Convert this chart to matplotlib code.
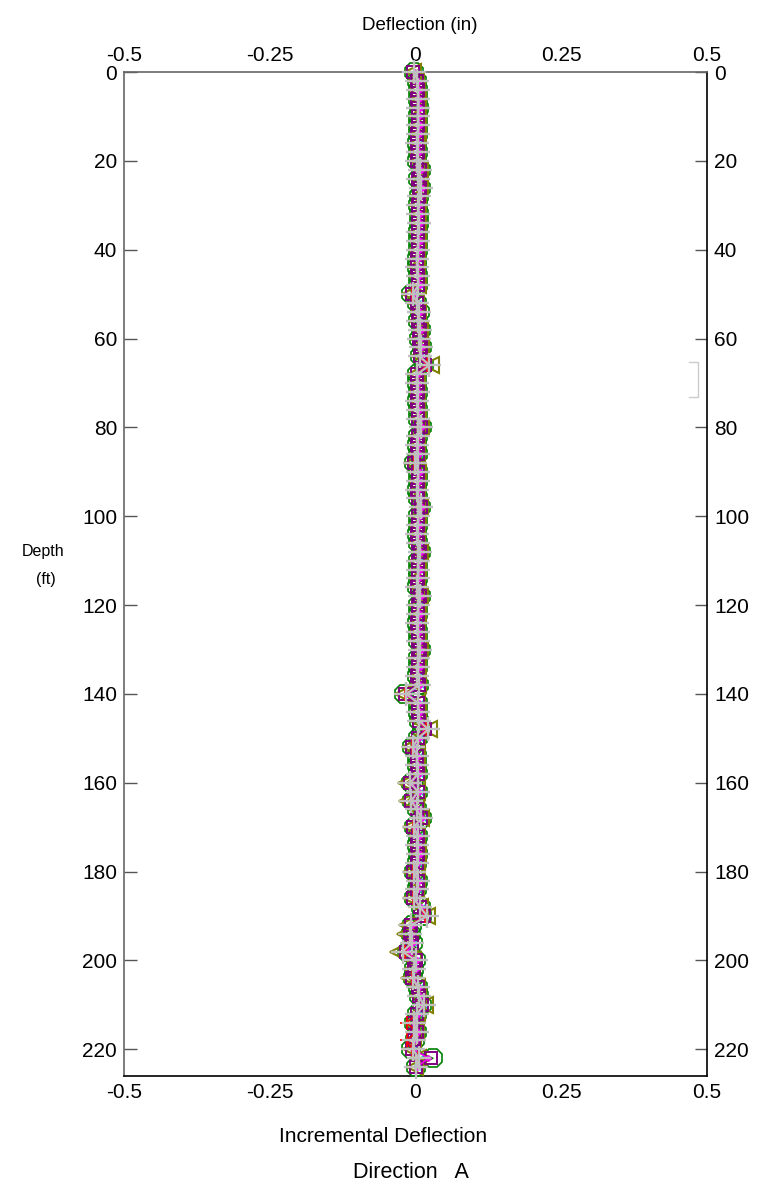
import matplotlib
matplotlib.use("Agg")
import matplotlib.pyplot as plt
from matplotlib.lines import Line2D

plt.rcParams['font.family'] = ['Liberation Sans', 'DejaVu Sans']

# depth of each reading (ft)
depth = list(range(0, 226, 2))

# incremental deflection per survey, in thousandths of an inch
grn = [-3, 3, 5, 4, 6, 4, 5, 5, 3, 4,
       3, 9, 5, 10, 6, 4, 6, 6, 4, 5,
       4, 3, 2, 4, 5, -7, 2, 7, 4, 9,
       6, 11, 7, 14, 2, 3, 4, 3, 4, 5,
       11, 4, 3, 4, -3, 5, 4, 3, 4, 10,
       5, 4, 3, 4, 9, 4, 5, 4, 3, 9,
       4, 5, 3, 4, 5, 9, 4, 5, 3, 6,
       -20, 4, 5, 6, 12, 4, -6, 3, 2, 4,
       -8, 4, -6, 2, 11, -3, 4, 2, 5, 3,
       -3, 4, 2, -3, 9, 12, -6, -8, -5, -14,
       0, -2, -5, 4, 6, 12, 3, -3, 2, -1,
       -8, 30, 0]
olv = [-5, 1, 3, 4, 4, 3, 4, 4, 2, 3,
       2, 7, 4, 8, 5, 3, 4, 5, 3, 4,
       3, 2, 1, 3, 4, -9, 1, 5, 3, 7,
       5, 9, 6, 26, 1, 2, 3, 2, 3, 4,
       9, 3, 2, 3, -4, 4, 3, 2, 3, 8,
       4, 3, 2, 3, 7, 3, 4, 3, 2, 7,
       3, 4, 2, 3, 4, 7, 3, 4, 2, 5,
       -22, 3, 4, 5, 24, 3, -10, 2, 1, 3,
       -16, 3, -14, 1, 9, -8, 3, 1, 4, 2,
       -8, 3, 1, -8, 7, 20, -14, -18, -10, -30,
       -4, -6, -12, 3, 5, 16, 2, -6, 1, -4,
       -8, 4, -1]
pur = [-4, 2, 4, 3, 5, 4, 5, 3, 3, 4,
       2, 7, 5, 8, 6, 4, 5, 5, 4, 5,
       4, 3, 2, 4, 5, -6, 2, 6, 4, 8,
       6, 9, 7, 16, 2, 3, 4, 3, 4, 5,
       9, 4, 3, 4, -2, 5, 4, 3, 4, 9,
       5, 4, 3, 4, 8, 4, 5, 4, 3, 8,
       4, 5, 3, 4, 5, 8, 4, 5, 3, 6,
       -18, 4, 5, 6, 16, 4, -6, 3, 2, 4,
       -10, 4, -8, 2, 10, -4, 4, 2, 5, 3,
       -4, 4, 2, -4, 8, 14, -8, -10, -6, -16,
       0, -2, -6, 4, 6, 12, 3, -4, 2, -2,
       -6, 26, 0]
mag = [-1, 5, 6, 6, 7, 6, 7, 6, 5, 6,
       4, 10, 7, 11, 8, 6, 7, 8, 6, 7,
       6, 5, 4, 6, 7, -4, 4, 8, 6, 10,
       8, 12, 9, 18, 4, 5, 6, 5, 6, 7,
       12, 6, 5, 6, 0, 7, 6, 5, 6, 11,
       7, 6, 5, 6, 10, 6, 7, 6, 5, 10,
       6, 7, 5, 6, 7, 10, 6, 7, 5, 8,
       -14, 6, 7, 8, 16, 6, -4, 5, 4, 6,
       -8, 6, -6, 4, 12, -2, 6, 4, 7, 5,
       -2, 6, 4, -2, 10, 14, -6, -8, -4, -14,
       2, 0, -4, 6, 8, 12, 5, -2, 4, 0,
       -4, 22, 2]
red = [-3, 3, 4, 4, 5, 4, 5, 4, 3, 4,
       2, 8, 5, 9, 6, 4, 5, 6, 4, 5,
       4, 3, 2, 4, 5, -6, 2, 6, 4, 8,
       6, 10, 7, 20, 2, 3, 4, 3, 4, 5,
       10, 4, 3, 4, -2, 5, 4, 3, 4, 9,
       5, 4, 3, 4, 8, 4, 5, 4, 3, 8,
       4, 5, 3, 4, 5, 8, 4, 5, 3, 6,
       -18, 4, 5, 6, 18, 4, -6, 3, 2, 4,
       -10, 4, -8, 2, 10, -4, 4, 2, 5, 3,
       -4, 4, 2, -4, 8, 16, -8, -10, -6, -18,
       0, -2, -6, 4, 6, 14, 3, -15, 2, -15,
       -6, 5, 0]
cyn = [6, 6, 7, 7, 8, 7, 8, 7, 6, 7,
       5, 11, 8, 12, 9, 7, 8, 9, 7, 8,
       7, 6, 5, 7, 8, -3, 5, 9, 7, 11,
       9, 13, 10, 20, 5, 6, 7, 6, 7, 8,
       13, 7, 6, 7, 1, 8, 7, 6, 7, 12,
       8, 7, 6, 7, 11, 7, 8, 7, 6, 11,
       7, 8, 6, 7, 8, 11, 7, 8, 6, 9,
       -12, 7, 8, 9, 18, 7, -3, 6, 5, 7,
       -6, 7, -4, 5, 13, -1, 7, 5, 8, 6,
       -1, 7, 5, -1, 11, 16, -4, -6, -2, -12,
       3, 1, -2, 7, 9, 14, 6, -1, 5, 1,
       -3, 8, 3]
gry = [-2, 3, 4, 5, 5, 4, 5, 4, 3, 4,
       3, 8, 5, 9, 6, 5, 5, 6, 4, 5,
       4, 3, 3, 4, 5, -5, 3, 6, 4, 8,
       6, 10, 7, 24, 3, 3, 4, 3, 4, 5,
       10, 4, 3, 4, -1, 5, 4, 3, 4, 9,
       5, 4, 3, 4, 8, 4, 5, 4, 3, 8,
       4, 5, 3, 4, 5, 8, 4, 5, 3, 6,
       -16, 4, 5, 6, 22, 4, -5, 3, 2, 4,
       -9, 4, -7, 2, 10, -3, 4, 2, 5, 3,
       -3, 4, 2, -3, 8, 20, -7, -9, -6, -22,
       0, -2, -5, 4, 6, 14, 3, -3, 2, -2,
       -5, 6, 1]

xticks = [-0.5, -0.25, 0, 0.25, 0.5]
xlabels = ["-0.5", "-0.25", "0", "0.25", "0.5"]
yticks = list(range(0, 221, 20))

W, H = 768, 1198
fig = plt.figure(figsize=(W / 100, H / 100), dpi=100)
ax = fig.add_axes([124 / W, 1 - 1076 / H, (707 - 124) / W, (1076 - 72) / H])


def inch(v):
    return [x / 1000 for x in v]


# (values, color, marker, size, edge width, filled)
series = [
    (grn, '#008000', '8', 14, 1.2, False),
    (cyn, '#00c8c8', 'x', 5, 1.0, False),
    (olv, '#808000', '<', 11, 1.5, False),
    (pur, '#800080', 's', 8, 1.4, False),
    (mag, '#ff00ff', 'D', 3, 1.0, True),
    (red, '#ff0000', '+', 10, 1.2, False),
]
for vals, col, mk, ms, mew, filled in series:
    ax.plot(inch(vals), depth, color=col, lw=1.0, marker=mk, ms=ms, mew=mew,
            mfc=col if filled else 'none', mec=col, clip_on=False, zorder=3)

ax.plot(inch(gry), depth, color='#c0c0c0', lw=1.6, marker='+', ms=17, mew=1.7,
        clip_on=False, zorder=4)

ax.set_xlim(-0.5, 0.5)
ax.set_ylim(226, 0)
ax.set_xticks(xticks)
ax.set_xticklabels(xlabels)
ax.set_yticks(yticks)
ax.tick_params(axis='x', top=True, labeltop=True, length=0, pad=5, labelsize=15)
ax.tick_params(axis='y', left=True, right=True, labelright=True, direction='in',
               length=9, width=1, color='#555555', pad=5, labelsize=15)
ax.spines['left'].set_color('#666666')
ax.spines['top'].set_color('#666666')
ax.spines['right'].set_color('#000000')
ax.spines['bottom'].set_color('#000000')
for s in ax.spines.values():
    s.set_linewidth(1.2)

fig.text(420 / W, 1 - 25 / H, "Deflection (in)", ha='center', va='center', fontsize=13.5)
fig.text(43 / W, 1 - 552 / H, "Depth", ha='center', va='center', fontsize=11.5)
fig.text(46 / W, 1 - 579 / H, "(ft)", ha='center', va='center', fontsize=11.5)
fig.text(383 / W, 1 - 1136 / H, "Incremental Deflection", ha='center', va='center', fontsize=15)
fig.text(411 / W, 1 - 1173 / H, "Direction   A", ha='center', va='center', fontsize=15.5)

# faint empty box at the right edge
bx = [689, 698, 698, 689]
by = [362, 362, 397, 397]
fig.add_artist(Line2D([x / W for x in bx], [1 - y / H for y in by],
                      color='#cccccc', lw=1))

fig.savefig("out.png", dpi=100)
